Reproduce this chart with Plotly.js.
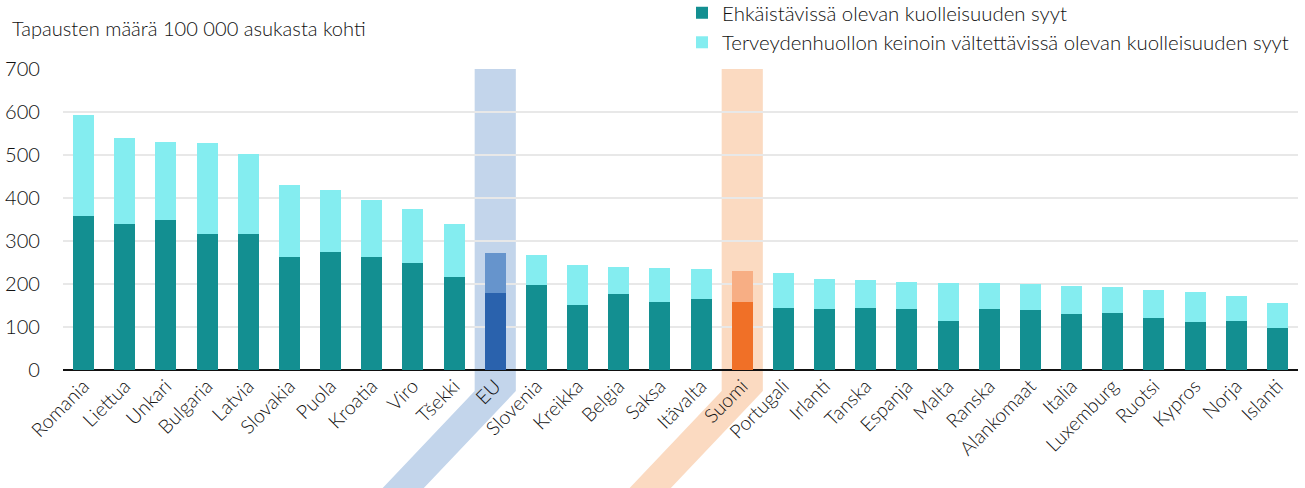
<!DOCTYPE html>
<html><head><meta charset="utf-8">
<script src="https://cdn.plot.ly/plotly-3.0.1.min.js"></script>
<style>html,body{margin:0;padding:0;background:#fff}</style>
</head><body><div id="chart" style="width:1305px;height:488px"></div>
<script>
const categories = ['Romania','Liettua','Unkari','Bulgaria','Latvia','Slovakia','Puola','Kroatia','Viro','Tšekki','EU','Slovenia','Kreikka','Belgia','Saksa','Itävalta','Suomi','Portugali','Irlanti','Tanska','Espanja','Malta','Ranska','Alankomaat','Italia','Luxemburg','Ruotsi','Kypros','Norja','Islanti'];
const preventable = [357,340,350,316,316,262,274,263,250,216,180,198,151,176,157,164,157,145,141,145,142,115,142,140,130,133,122,111,115,98];
const treatable   = [236,200,180,213,186,169,145,132,125,124,92,70,94,64,80,71,73,80,70,64,63,88,60,60,66,60,63,70,56,58];
const seriesNames = ['Ehkäistävissä olevan kuolleisuuden syyt','Terveydenhuollon keinoin vältettävissä olevan kuolleisuuden syyt'];
const yTitle = 'Tapausten määrä 100 000 asukasta kohti';
const highlights = {EU:{dark:'#2a62ad', light:'#6694cc', band:'#c3d5eb'}, Suomi:{dark:'#f07027', light:'#f7ae84', band:'#fbdac1'}};
const baseDark = '#138f91', baseLight = '#84edf0';

const W = 1305, H = 488, M = {l:63, r:7, t:69, b:118, autoexpand:false};
const pw = W - M.l - M.r, ph = H - M.t - M.b;
const font = 'Lato, "Open Sans", sans-serif';
const fs = 20.1;

const darkColors = categories.map(c => highlights[c] ? highlights[c].dark : baseDark);
const lightColors = categories.map(c => highlights[c] ? highlights[c].light : baseLight);

const n = categories.length;
const shapes = Object.keys(highlights).map(name => {
  const i = categories.indexOf(name);
  const x0 = i / n, x1 = (i + 1) / n;
  const yk = -21 / ph, yb = -(M.b + 2) / ph;
  const s = 92 / pw * ((M.b + 2 - 21) / 97);
  return {type:'path', xref:'paper', yref:'paper', layer:'below', line:{width:0},
    fillcolor: highlights[name].band,
    path:`M${x0},1 L${x1},1 L${x1},${yk} L${x1 - s},${yb} L${x0 - s},${yb} L${x0},${yk} Z`};
});

const traces = [
  {type:'bar', x:categories, y:preventable, name:seriesNames[0], marker:{color:darkColors, line:{width:0}}, hoverinfo:'x+y'},
  {type:'bar', x:categories, y:treatable, name:seriesNames[1], marker:{color:lightColors, line:{width:0}}, hoverinfo:'x+y'}
];

const txt = {family:font, size:fs, color:'#111', weight:300};
const layout = {
  width:W, height:H, margin:M, barmode:'stack', bargap:0.49,
  paper_bgcolor:'#ffffff', plot_bgcolor:'rgba(0,0,0,0)',
  font:txt,
  showlegend:true,
  legend:{x:(682 - M.l)/pw, y:1 + (M.t + 7)/ph, xanchor:'left', yanchor:'top', orientation:'v', traceorder:'normal', font:Object.assign({}, txt, {size:20.4}), bgcolor:'rgba(0,0,0,0)', tracegroupgap:0},
  xaxis:{type:'category', tickangle:-45, tickfont:Object.assign({}, txt, {size:19.5}), showgrid:false, ticks:'', showline:false, fixedrange:true},
  yaxis:{range:[0,700], dtick:100, tickfont:txt, gridcolor:'#e8e8e8', gridwidth:1.5, zeroline:true, zerolinecolor:'#111', zerolinewidth:2, ticks:'outside', ticklen:18, tickcolor:'rgba(0,0,0,0)', fixedrange:true},
  annotations:[{text:yTitle, xref:'paper', yref:'paper', x:-(M.l - 10)/pw, y:1 + 41/ph, xanchor:'left', yanchor:'middle', showarrow:false, font:txt}],
  shapes:shapes
};

Plotly.newPlot('chart', traces, layout, {displayModeBar:false, staticPlot:true});
</script></body></html>
